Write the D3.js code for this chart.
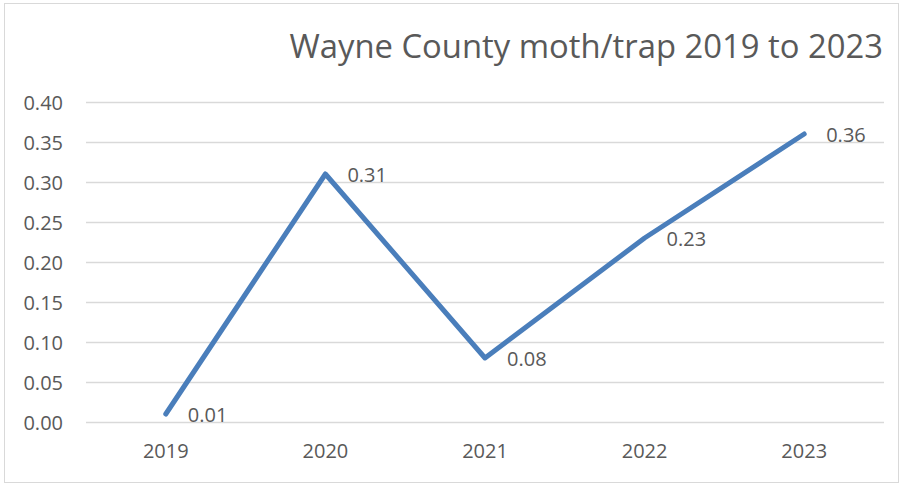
<!DOCTYPE html>
<html>
<head>
<meta charset="utf-8">
<script src="https://cdn.jsdelivr.net/npm/d3@7"></script>
<style>
  body { margin: 0; background: #fff; }
  text { font-family: "Open Sans", "Liberation Sans", sans-serif; fill: #595959; }
</style>
</head>
<body>
<div id="chart"></div>
<script>
// data
const years = ["2019", "2020", "2021", "2022", "2023"];
const mothPerTrap = [0.01, 0.31, 0.08, 0.23, 0.36];
const yTicks = [0, 0.05, 0.10, 0.15, 0.20, 0.25, 0.30, 0.35, 0.40];

let width = 901, height = 485;
let margin = { top: 102, bottom: 63, left: 86, right: 17 };

let svg = d3.select('#chart')
    .append('svg')
    .attr('width', width)
    .attr('height', height);

// chart border
svg.append('rect')
    .attr('x', 4.5).attr('y', 3.5)
    .attr('width', 894).attr('height', 479)
    .attr('fill', '#fff')
    .attr('stroke', '#d9d9d9')
    .attr('stroke-width', 1);

// title
svg.append('text')
    .attr('x', 883)
    .attr('y', 58)
    .attr('text-anchor', 'end')
    .style('font-size', '32.8px')
    .style('font-weight', 400)
    .text('Wayne County moth/trap 2019 to 2023');

let xScale = d3.scaleBand()
    .domain(years)
    .range([margin.left, width - margin.right]);

let yScale = d3.scaleLinear()
    .domain([0, 0.4])
    .range([height - margin.bottom, margin.top]);

// gridlines
svg.append('g')
    .selectAll('line')
    .data(yTicks)
    .enter()
    .append('line')
    .attr('x1', margin.left)
    .attr('x2', width - margin.right)
    .attr('y1', d => Math.round(yScale(d)) + 0.5)
    .attr('y2', d => Math.round(yScale(d)) + 0.5)
    .attr('stroke', '#d9d9d9')
    .attr('stroke-width', 1.5);

// y axis labels
let yAxis = svg.append('g')
    .attr('transform', `translate(${margin.left}, 0)`)
    .call(d3.axisLeft(yScale).tickValues(yTicks).tickFormat(d3.format('.2f')).tickSize(0).tickPadding(23));
yAxis.select('.domain').remove();
yAxis.selectAll('text').style('font-size', '20px').style('fill', '#595959').attr('dy', '0.36em');

// x axis labels
let xAxis = svg.append('g')
    .attr('transform', `translate(0, ${height - margin.bottom})`)
    .call(d3.axisBottom(xScale).tickSize(0).tickPadding(22));
xAxis.select('.domain').remove();
xAxis.selectAll('text').style('font-size', '20px').style('fill', '#595959');

// line
let line = d3.line()
    .x((d, i) => xScale(years[i]) + xScale.bandwidth() / 2)
    .y(d => yScale(d));

svg.append('path')
    .datum(mothPerTrap)
    .attr('d', line)
    .attr('fill', 'none')
    .attr('stroke', '#4a7ebb')
    .attr('stroke-width', 5)
    .attr('stroke-linejoin', 'round')
    .attr('stroke-linecap', 'round');

// data labels
svg.selectAll('.lbl')
    .data(mothPerTrap)
    .enter()
    .append('text')
    .attr('class', 'lbl')
    .attr('x', (d, i) => xScale(years[i]) + xScale.bandwidth() / 2 + 22)
    .attr('y', d => yScale(d) + 1)
    .attr('dy', '0.36em')
    .style('font-size', '20px')
    .text(d => d3.format('.2f')(d));
</script>
</body>
</html>
